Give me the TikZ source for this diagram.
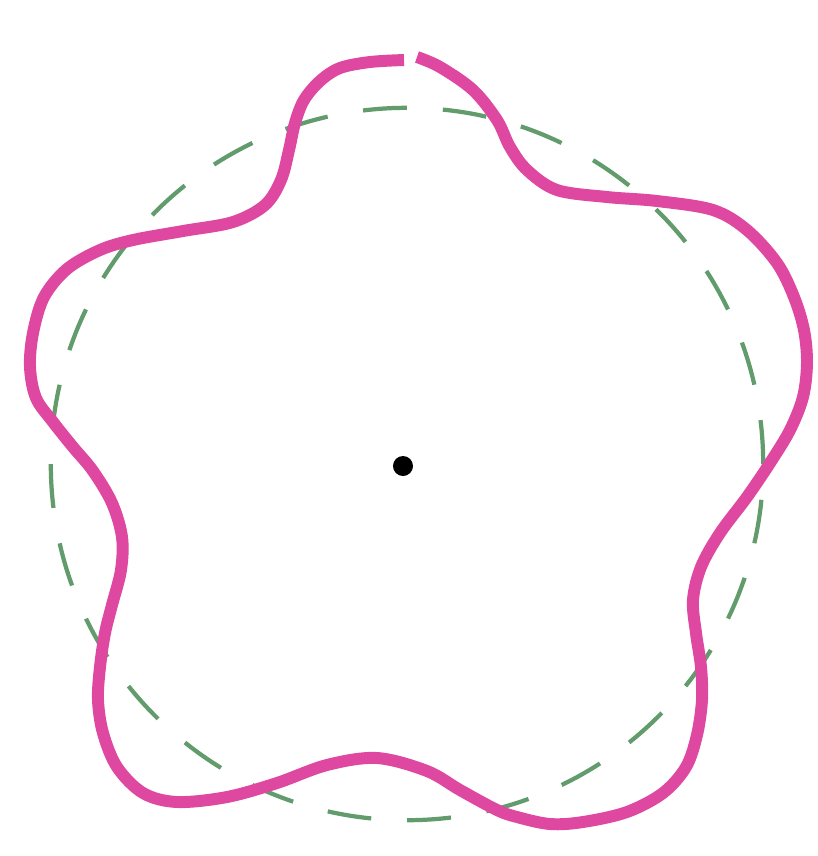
\documentclass[tikz,border=0pt]{standalone}
\usepackage{tikz}
\definecolor{petal}{RGB}{222,72,160}
\definecolor{ring}{RGB}{98,156,108}

\begin{document}
\begin{tikzpicture}[
            x=0.01cm, y=-0.01cm,
            wavy/.style={draw=petal, line width=3.4pt, line join=round},
            circ/.style={draw=ring, line width=1.2pt, dash pattern=on 0.44cm off 0.359cm},
            dot/.style={circle, fill=black, inner sep=0pt, minimum size=0.2cm}
        ]
            \useasboundingbox[fill=white] (0,0) rectangle (818,856);
            \node[dot] (centre) at (403,466) {};
            \coordinate (mid) at (407,464);
            % dashed circle
            \draw[circ] (mid) circle (3.56cm);
            % wavy five-lobed curve, open at the top
            \draw[wavy] plot[smooth, tension=0.55] coordinates {
                (417,57) (440,67) (473,90) (497,120) (510,147) (527,170) (557,190)
                (607,197) (657,201) (713,210) (747,230) (777,263) (794,297)
                (804,330) (807,363) (803,397) (790,430) (770,463) (747,497)
                (720,533) (701,567) (693,600) (696,633) (701,667) (702,700)
                (697,735) (686,767) (663,793) (627,812) (583,822) (550,824)
                (517,817) (497,810) (460,790) (427,771) (377,758) (327,765)
                (277,783) (227,797) (177,802) (143,793) (117,767) (103,733)
                (98,700) (100,667) (105,633) (112,605) (121,570) (122,537)
                (112,503) (93,471) (73,447) (53,422) (36,398) (30,367)
                (33,333) (44,297) (67,269) (100,250) (133,240) (183,231)
                (233,222) (265,205) (281,180) (289,150) (295,123) (304,100)
                (320,81) (340,68) (370,62) (404,60)
            };
        \end{tikzpicture}
\end{document}
